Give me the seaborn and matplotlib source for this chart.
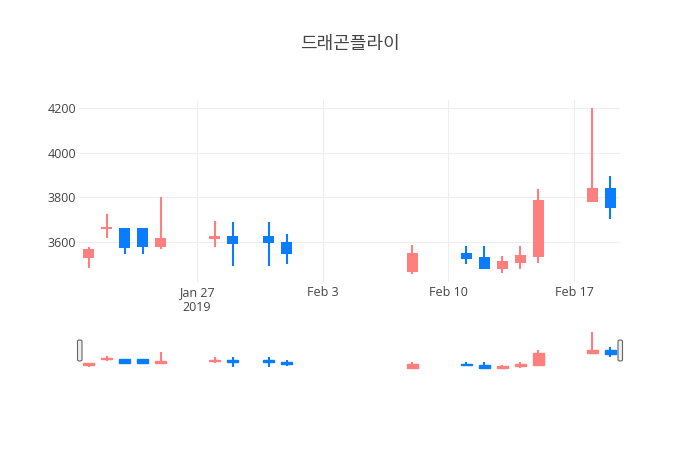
import numpy as np
import pandas as pd
import matplotlib
matplotlib.use("Agg")
import matplotlib.pyplot as plt
import matplotlib.dates as mdates
from matplotlib.patches import FancyBboxPatch
import seaborn as sns

#
# Data
#

title = "드래곤플라이"

dates = ["2019-01-21", "2019-01-22", "2019-01-23", "2019-01-24", "2019-01-25",
         "2019-01-28", "2019-01-29", "2019-01-31", "2019-02-01",
         "2019-02-08",
         "2019-02-11", "2019-02-12", "2019-02-13", "2019-02-14", "2019-02-15",
         "2019-02-18", "2019-02-19"]
opens  = [3527, 3655, 3660, 3660, 3577, 3612, 3623, 3623, 3600, 3464,
          3550, 3532, 3477, 3505, 3532, 3777, 3841]
highs  = [3577, 3723, 3660, 3660, 3800, 3691, 3686, 3686, 3632, 3586,
          3582, 3582, 3536, 3582, 3836, 4200, 3895]
lows   = [3482, 3614, 3545, 3545, 3568, 3577, 3491, 3491, 3500, 3455,
          3500, 3477, 3459, 3477, 3505, 3777, 3700]
closes = [3568, 3664, 3573, 3575, 3614, 3623, 3591, 3595, 3545, 3550,
          3523, 3477, 3514, 3541, 3786, 3841, 3750]

tick_dates = ["2019-01-27", "2019-02-03", "2019-02-10", "2019-02-17"]
tick_labels = ["Jan 27\n2019", "Feb 3", "Feb 10", "Feb 17"]
y_ticks = [3600, 3800, 4000, 4200]

UP = "#ff7f7f"
DOWN = "#0a7cff"
TEXT = "#444444"
GRID = "#eeeeee"

df = pd.DataFrame({"date": pd.to_datetime(dates), "open": opens, "high": highs,
                   "low": lows, "close": closes})
df["x"] = mdates.date2num(df["date"])
df["up"] = df["close"] >= df["open"]
df["color"] = np.where(df["up"], UP, DOWN)
df["bottom"] = df[["open", "close"]].min(axis=1)
df["height"] = (df["close"] - df["open"]).abs().clip(lower=2)

# plotly-like autorange: 5% padding on y
span = df["high"].max() - df["low"].min()
ylim = (df["low"].min() - 0.05 * span, df["high"].max() + 0.05 * span)
xlim = (df["x"].min() - 0.53, df["x"].max() + 0.53)

sns.set_theme(style="white")
plt.rcParams["font.family"] = ["Open Sans", "DejaVu Sans"]

W, H = 700, 450
fig = plt.figure(figsize=(7, 4.5), dpi=100)


def px_axes(x0, y0, x1, y1):
	# axes from pixel box (top-left origin)
	return fig.add_axes([x0 / W, 1 - y1 / H, (x1 - x0) / W, (y1 - y0) / H])


def draw_candles(ax, edge=0.0, width=0.66):
	ax.vlines(df["x"], df["low"], df["high"], colors=df["color"], linewidth=1.5, zorder=2)
	ax.bar(df["x"], df["height"], bottom=df["bottom"], width=width,
	       color=df["color"], edgecolor=df["color"], linewidth=edge, zorder=3)
	ax.set_xlim(*xlim)
	ax.set_ylim(*ylim)


# main plot
ax = px_axes(79, 100, 620, 282)
draw_candles(ax)
ax.set_yticks(y_ticks)
ax.set_yticklabels([str(v) for v in y_ticks])
ax.set_xticks(mdates.date2num(pd.to_datetime(tick_dates)))
ax.set_xticklabels(tick_labels, linespacing=1.15)
ax.grid(True, color=GRID, linewidth=0.75, zorder=0)
ax.set_axisbelow(True)
ax.tick_params(axis="both", length=0, labelsize=9, labelcolor=TEXT)
ax.tick_params(axis="x", pad=3)
ax.tick_params(axis="y", pad=2)
for s in ax.spines.values():
	s.set_visible(False)

# range slider
rs = px_axes(79, 330.5, 620, 370.5)
draw_candles(rs, edge=1.0, width=0.6)
rs.set_xticks([])
rs.set_yticks([])
for s in rs.spines.values():
	s.set_visible(False)

# slider grabbers
for gx in (77.5, 618):
	fig.patches.append(FancyBboxPatch((gx / W, 1 - 361 / H), 4.5 / W, 21 / H,
	                                  boxstyle="round,pad=0,rounding_size=0.003",
	                                  transform=fig.transFigure, facecolor="#eeeeee",
	                                  edgecolor="#666666", linewidth=0.8))

fig.text(0.5, 1 - 44 / H, title, ha="center", va="center", fontsize=13, color=TEXT,
         family=["Noto Sans CJK KR", "DejaVu Sans"])

plt.savefig("out.png", dpi=100)
